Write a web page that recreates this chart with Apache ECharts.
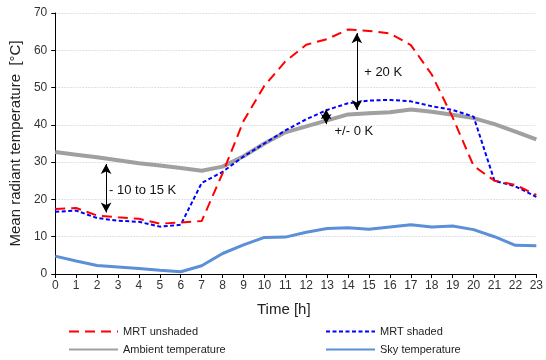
<!DOCTYPE html>
<html><head><meta charset="utf-8">
<script src="https://cdn.jsdelivr.net/npm/echarts@6/dist/echarts.min.js"></script>
<style>html,body{margin:0;padding:0;background:#fff}#c{width:546px;height:360px}</style>
</head><body><div id="c"></div>
<script>
const hours = [0,1,2,3,4,5,6,7,8,9,10,11,12,13,14,15,16,17,18,19,20,21,22,23];
const mrtUnshaded = [17.4,17.7,15.7,15.2,14.8,13.5,13.8,14.2,27.0,41.0,50.5,57.0,61.5,63.0,65.6,65.2,64.5,61.4,53.5,42.0,29.0,25.0,23.9,21.2];
const mrtShaded = [16.7,17.0,15.0,14.3,14.0,12.7,13.2,24.4,27.4,31.5,35.0,38.5,41.5,44.0,45.8,46.5,46.7,46.3,45.0,44.0,42.2,25.0,23.5,20.7];
const ambient = [32.7,32.0,31.3,30.5,29.7,29.1,28.4,27.7,28.8,31.6,35.0,38.0,39.6,41.2,42.8,43.1,43.4,44.1,43.5,42.7,41.8,40.2,38.2,36.1];
const sky = [4.8,3.5,2.3,1.9,1.5,1.0,0.6,2.2,5.5,7.8,9.8,9.9,11.2,12.2,12.4,12.0,12.6,13.2,12.6,12.9,11.9,10.0,7.7,7.6];
const yTicks = [0,10,20,30,40,50,60,70];
// annotation arrows: [x, yTop, yBottom]
const arrows = [[2.43,29.5,16.5],[14.42,64.6,44.0],[12.95,44.2,40.2]];
// annotation labels: [x, y, text]
const notes = [[2.57,22.4,'- 10 to 15 K'],[14.77,54.0,'+ 20 K'],[13.35,38.2,'+/- 0 K']];
const legendNames = ['MRT unshaded','MRT shaded','Ambient temperature','Sky temperature'];

const pair = arr => hours.map((h,i)=>[h,arr[i]]);
const chart = echarts.init(document.getElementById('c'), null, {renderer:'canvas'});
const font = 'Liberation Sans, Arial, sans-serif';
const legPos = [[63,321],[320,321],[63,339],[320,339]];
chart.setOption({
  animation:false,
  textStyle:{fontFamily:font},
  grid:{left:53,right:7,top:13,bottom:86},
  xAxis:{type:'value',min:0,max:23,interval:1,
    name:'Time [h]',nameLocation:'middle',nameGap:28,
    nameTextStyle:{fontSize:15,color:'#222',fontFamily:font,padding:[0,24,0,0]},
    axisLine:{lineStyle:{color:'#000',width:1}},
    axisTick:{show:true,length:4,lineStyle:{color:'#000'}},
    axisLabel:{fontSize:12,color:'#333',margin:6,fontFamily:font},
    splitLine:{show:false}},
  yAxis:{type:'value',min:yTicks[0],max:yTicks[yTicks.length-1],interval:10,
    name:'Mean radiant temperature  [°C]',nameLocation:'middle',nameGap:29,
    nameTextStyle:{fontSize:15,color:'#222',fontFamily:font},
    axisLine:{show:true,lineStyle:{color:'#000',width:1}},
    axisTick:{show:true,length:4,lineStyle:{color:'#000'}},
    axisLabel:{fontSize:12,color:'#333',margin:8,fontFamily:font},
    splitLine:{show:true,lineStyle:{color:'#e0e0e0',type:[2,1],width:1}}},
  legend:legendNames.map((n,i)=>({left:legPos[i][0],top:legPos[i][1],itemWidth:49,itemHeight:12,
     itemGap:5,itemStyle:{opacity:0},
     textStyle:{fontSize:11,color:'#222',fontFamily:font},data:[n]})),
  series:[
    {name:'Ambient temperature',type:'line',data:pair(ambient),symbol:'none',
     lineStyle:{color:'#a0a0a0',width:4},itemStyle:{color:'#a0a0a0'},z:2},
    {name:'Sky temperature',type:'line',data:pair(sky),symbol:'none',
     lineStyle:{color:'#5b8fd8',width:3},itemStyle:{color:'#5b8fd8'},z:2},
    {name:'MRT shaded',type:'line',data:pair(mrtShaded),symbol:'none',
     lineStyle:{color:'#0000ff',width:2,type:[4,2.5]},itemStyle:{color:'#0000ff'},z:3},
    {name:'MRT unshaded',type:'line',data:pair(mrtUnshaded),symbol:'none',
     lineStyle:{color:'#ff0000',width:2,type:[10,6]},itemStyle:{color:'#ff0000'},z:4,
     markLine:{silent:true,symbol:['arrow','arrow'],symbolSize:[8,10],
       lineStyle:{color:'#000',width:1,type:'solid'},label:{show:false},
       data:arrows.map(a=>[{coord:[a[0],a[1]]},{coord:[a[0],a[2]]}])},
     markPoint:{silent:true,symbol:'circle',symbolSize:0,
       label:{show:true,position:'right',distance:0,fontSize:13,color:'#111',fontFamily:font,
         formatter:p=>p.data.txt},
       data:notes.map(n=>({coord:[n[0],n[1]],txt:n[2]}))}}
  ]
});
</script></body></html>
